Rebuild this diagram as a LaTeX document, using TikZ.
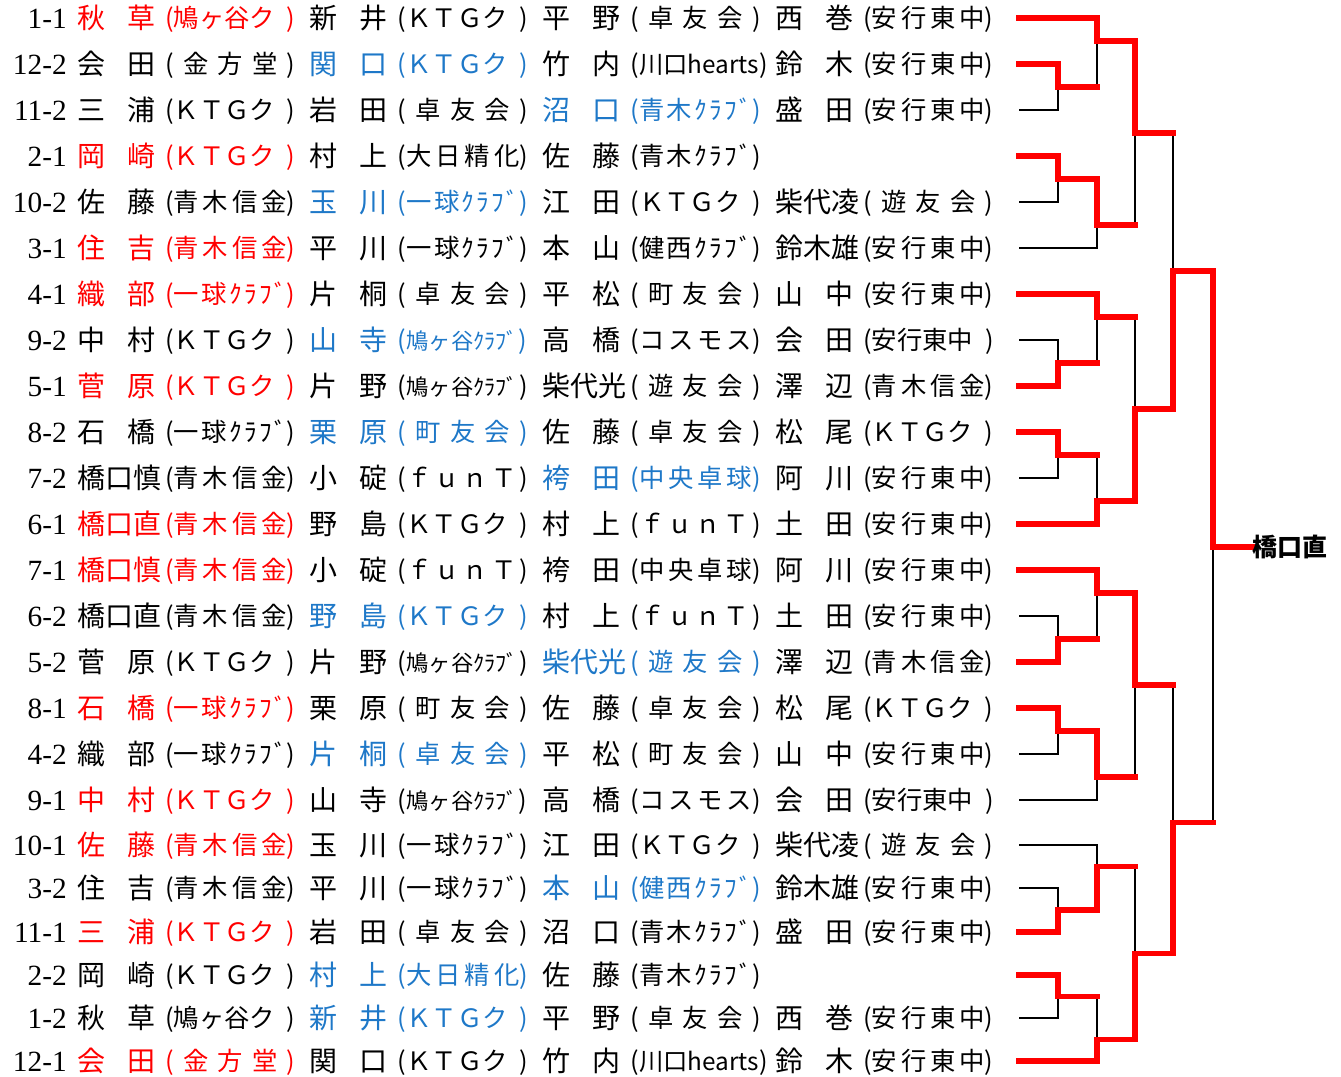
\documentclass[tikz,border=0pt]{standalone}
\usepackage{fontspec}
\setmainfont{Noto Sans CJK JP}
\newfontfamily\seedfont{Liberation Serif}
\definecolor{jred}{RGB}{255,0,0}
\definecolor{jblue}{RGB}{30,120,200}
\newcommand\nmgap{\hspace{.78em}}
\newcommand\club[1]{\makebox[97.5pt][s]{#1}}
\ExplSyntaxOn
\NewDocumentCommand\spread{m}{\tl_map_inline:nn {#1} {##1\hfil}\unskip}
\ExplSyntaxOff
% entries of each line: number/name/club
\def\teamA{1/秋\nmgap 草/(鳩ヶ谷ク\hfill), 2/新\nmgap 井/(ＫＴＧク\hfill), 3/平\nmgap 野/(\hfill 卓\hfill 友\hfill 会\hfill), 4/西\nmgap 巻/(\spread{安行東中})}
\def\teamB{1/会\nmgap 田/(\hfill 金\hfill 方\hfill 堂\hfill), 2/関\nmgap 口/(ＫＴＧク\hfill), 3/竹\nmgap 内/(\scalebox{.96}{川口hearts}), 4/鈴\nmgap 木/(\spread{安行東中})}
\def\teamC{1/三\nmgap 浦/(ＫＴＧク\hfill), 2/岩\nmgap 田/(\hfill 卓\hfill 友\hfill 会\hfill), 3/沼\nmgap 口/(\spread{青木ｸﾗﾌﾞ}), 4/盛\nmgap 田/(\spread{安行東中})}
\def\teamD{1/岡\nmgap 崎/(ＫＴＧク\hfill), 2/村\nmgap 上/(\spread{大日精化}), 3/佐\nmgap 藤/(\spread{青木ｸﾗﾌﾞ})}
\def\teamE{1/佐\nmgap 藤/(\spread{青木信金}), 2/玉\nmgap 川/(\spread{一球ｸﾗﾌﾞ}), 3/江\nmgap 田/(ＫＴＧク\hfill), 4/柴代凌/(\hfill 遊\hfill 友\hfill 会\hfill)}
\def\teamF{1/住\nmgap 吉/(\spread{青木信金}), 2/平\nmgap 川/(\spread{一球ｸﾗﾌﾞ}), 3/本\nmgap 山/(\spread{健西ｸﾗﾌﾞ}), 4/鈴木雄/(\spread{安行東中})}
\def\teamG{1/織\nmgap 部/(\spread{一球ｸﾗﾌﾞ}), 2/片\nmgap 桐/(\hfill 卓\hfill 友\hfill 会\hfill), 3/平\nmgap 松/(\hfill 町\hfill 友\hfill 会\hfill), 4/山\nmgap 中/(\spread{安行東中})}
\def\teamH{1/中\nmgap 村/(ＫＴＧク\hfill), 2/山\nmgap 寺/(\scalebox{.88}{鳩ヶ谷ｸﾗﾌﾞ}), 3/高\nmgap 橋/(\spread{コスモス}), 4/会\nmgap 田/(\spread{安行東中}\hspace{.5em})}
\def\teamI{1/菅\nmgap 原/(ＫＴＧク\hfill), 2/片\nmgap 野/(\scalebox{.88}{鳩ヶ谷ｸﾗﾌﾞ}\hfill), 3/柴代光/(\hfill 遊\hfill 友\hfill 会\hfill), 4/澤\nmgap 辺/(\spread{青木信金})}
\def\teamJ{1/石\nmgap 橋/(\spread{一球ｸﾗﾌﾞ}), 2/栗\nmgap 原/(\hfill 町\hfill 友\hfill 会\hfill), 3/佐\nmgap 藤/(\hfill 卓\hfill 友\hfill 会\hfill), 4/松\nmgap 尾/(ＫＴＧク\hfill)}
\def\teamK{1/橋口慎/(\spread{青木信金}), 2/小\nmgap 碇/(ｆ\hfill ｕ\hfill ｎ\hfill Ｔ\hfill), 3/袴\nmgap 田/(\spread{中央卓球}), 4/阿\nmgap 川/(\spread{安行東中})}
\def\teamL{1/橋口直/(\spread{青木信金}), 2/野\nmgap 島/(ＫＴＧク\hfill), 3/村\nmgap 上/(ｆ\hfill ｕ\hfill ｎ\hfill Ｔ\hfill), 4/土\nmgap 田/(\spread{安行東中})}
\begin{document}
\begin{tikzpicture}[x=0.75pt, y=-0.75pt,
    seedno/.style={anchor=east, inner sep=0pt, font=\seedfont\fontsize{22pt}{22pt}\selectfont, text height=18.5pt, text depth=2.5pt},
    pname/.style={anchor=west, inner sep=0pt, font=\fontsize{21pt}{21pt}\selectfont, text height=18.5pt, text depth=2.5pt},
    pclub/.style={anchor=west, inner sep=0pt, font=\fontsize{19pt}{19pt}\selectfont, text height=17pt, text depth=2.3pt},
    lose/.style={black, line width=1.8pt},
    win/.style={jred, line width=3.8pt, line cap=rect},
    champlbl/.style={anchor=west, inner sep=0pt, font=\bfseries\fontsize{18.75pt}{18.75pt}\selectfont, text height=16.5pt, text depth=2.2pt}]
	\useasboundingbox (0,0) rectangle (1341,1076);
	% rows: y/seed/line/coloured entry/colour
	\foreach \yy/\sd/\tm/\hl/\hc [count=\ri] in {18/1-1/A/1/jred, 64/12-2/B/2/jblue, 110/11-2/C/3/jblue, 156/2-1/D/1/jred, 202/10-2/E/2/jblue, 248/3-1/F/1/jred, 294/4-1/G/1/jred, 340/9-2/H/2/jblue, 386/5-1/I/1/jred, 432/8-2/J/2/jblue, 478/7-2/K/3/jblue, 524/6-1/L/1/jred, 570/7-1/K/1/jred, 616/6-2/L/2/jblue, 662/5-2/I/3/jblue, 708/8-1/J/1/jred, 754/4-2/G/2/jblue, 800/9-1/H/1/jred, 845/10-1/E/1/jred, 888/3-2/F/3/jblue, 932/11-1/C/1/jred, 975/2-2/D/2/jblue, 1018/1-2/A/2/jblue, 1061/12-1/B/1/jred}{
		\node[seedno] (s\ri) at (67,\yy) {\sd};
		\coordinate (r\ri) at (1019,\yy);
		\expandafter\let\expandafter\tlist\csname team\tm\endcsname
		\foreach \e/\nm/\cl in \tlist {
			\ifnum\e=\hl \def\tc{\hc}\else\def\tc{black}\fi
			\pgfmathsetmacro\xs{77+232.7*(\e-1)}
			\node[pname, text=\tc] (n\ri-\e) at (\xs,\yy) {\nm};
			\node[pclub, text=\tc] (c\ri-\e) at (\xs+88,\yy) {\club{\cl}};
		}
	}
	% bracket joins
	\coordinate (j1) at (1058,87);
	\coordinate (j2) at (1097,41);
	\coordinate (j3) at (1058,179);
	\coordinate (j4) at (1097,225);
	\coordinate (j5) at (1135,133);
	\coordinate (j6) at (1097,317);
	\coordinate (j7) at (1058,363);
	\coordinate (j8) at (1058,455);
	\coordinate (j9) at (1097,501);
	\coordinate (j10) at (1135,409);
	\coordinate (j11) at (1173,271);
	\coordinate (j12) at (1058,639);
	\coordinate (j13) at (1097,593);
	\coordinate (j14) at (1058,731);
	\coordinate (j15) at (1097,777);
	\coordinate (j16) at (1135,685);
	\coordinate (j17) at (1058,910);
	\coordinate (j18) at (1097,866.5);
	\coordinate (j19) at (1058,996.5);
	\coordinate (j20) at (1097,1039.5);
	\coordinate (j21) at (1135,953.5);
	\coordinate (j22) at (1173,822.5);
	\coordinate (j23) at (1213,547);
	\coordinate (champ) at (1252,547);
	\foreach \a/\b/\j in {r2/r3/j1, r1/j1/j2, r4/r5/j3, j3/r6/j4, j2/j4/j5, r8/r9/j7, r7/j7/j6, r10/r11/j8, j8/r12/j9, j6/j9/j10, j5/j10/j11, r14/r15/j12, r13/j12/j13, r16/r17/j14, j14/r18/j15, j13/j15/j16, r20/r21/j17, r19/j17/j18, r22/r23/j19, j19/r24/j20, j18/j20/j21, j16/j21/j22, j11/j22/j23}
		\draw[lose] (\a) -| (\j) (\b) -| (\j);
	% winners
	\draw[win] (r1) -| (j2) -| (j5) -- (j5 -| j11);
	\draw[win] (r2) -| (j1) -- (j1 -| j2);
	\draw[win] (r4) -| (j3) -| (j4) -- (j4 -| j5);
	\draw[win] (r7) -| (j6) -- (j6 -| j10);
	\draw[win] (r9) -| (j7) -- (j7 -| j6);
	\draw[win] (r10) -| (j8) -- (j8 -| j9);
	\draw[win] (r12) -| (j9) -| (j10) -| (j11) -| (j23) -- (champ);
	\draw[win] (r13) -| (j13) -| (j16) -- (j16 -| j22);
	\draw[win] (r15) -| (j12) -- (j12 -| j13);
	\draw[win] (r16) -| (j14) -| (j15) -- (j15 -| j16);
	\draw[win] (r21) -| (j17) -| (j18) -- (j18 -| j21);
	\draw[win] (r22) -| (j19) -- (j19 -| j20);
	\draw[win] (r24) -| (j20) -| (j21) -| (j22) -- (j22 -| j23);
	\node[champlbl] (winner) at (champ) {橋口直};
\end{tikzpicture}
\end{document}
